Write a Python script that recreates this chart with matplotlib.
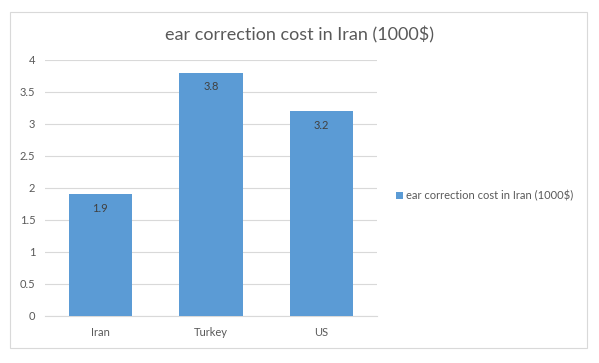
import matplotlib
matplotlib.use("Agg")
import matplotlib.pyplot as plt
from matplotlib.patches import Rectangle

plt.rcParams['font.family'] = ['Lato', 'DejaVu Sans']

# data
countries = ['Iran', 'Turkey', 'US']
costs = [1.9, 3.8, 3.2]
series_name = 'ear correction cost in Iran (1000$)'

bar_color = '#5B9BD5'
text_color = '#595959'
grid_color = '#D9D9D9'

fig = plt.figure(figsize=(5.99, 3.63), dpi=100)
ax = fig.add_axes([45 / 599, 1 - 316 / 363, 332 / 599, 256 / 363])

# outer chart border like excel
fig.patches.append(Rectangle((10 / 599, 1 - 348 / 363), 577 / 599, 336 / 363,
                             transform=fig.transFigure, fill=False,
                             edgecolor='#D9D9D9', linewidth=0.8))

x = range(len(countries))
bars = ax.bar(x, costs, width=0.57, color=bar_color, label=series_name, zorder=3)

for b, v in zip(bars, costs):
    ax.text(b.get_x() + b.get_width() / 2, v - 0.13, f'{v:g}',
            ha='center', va='top', fontsize=8, color='#404040', zorder=4)

ax.set_xlim(-0.5, 2.5)
ax.set_ylim(0, 4)
ax.set_yticks([0, 0.5, 1, 1.5, 2, 2.5, 3, 3.5, 4])
ax.set_yticklabels(['0', '0.5', '1', '1.5', '2', '2.5', '3', '3.5', '4'])
ax.set_xticks(list(x))
ax.set_xticklabels(countries)
ax.tick_params(axis='both', length=0, labelsize=8, colors=text_color)
ax.tick_params(axis='y', pad=7)
ax.tick_params(axis='x', pad=8)
ax.grid(axis='y', color=grid_color, linewidth=0.8, zorder=0)
for s in ['top', 'right', 'left']:
    ax.spines[s].set_visible(False)
ax.spines['bottom'].set_color(grid_color)
ax.spines['bottom'].set_linewidth(0.8)

fig.text(0.5, 1 - 35 / 363, series_name, ha='center', va='center',
         fontsize=13, color=text_color)

leg = fig.legend(loc='center left', bbox_to_anchor=(386 / 599, 1 - 196 / 363),
                 frameon=False, fontsize=8, handlelength=0.6, handleheight=0.6,
                 handletextpad=0.3, labelcolor=text_color)

fig.savefig('out.png', dpi=100)
